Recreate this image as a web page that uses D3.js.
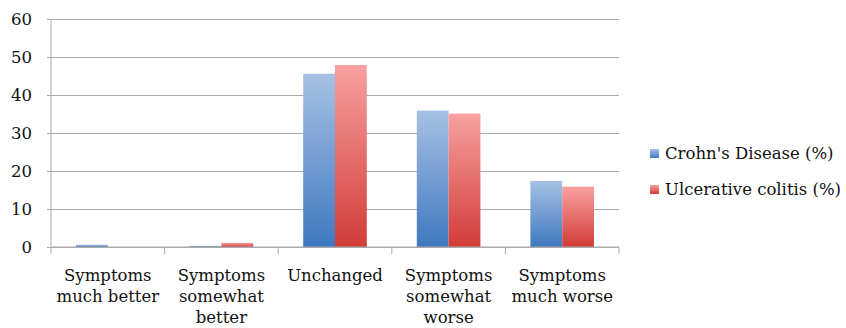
<!DOCTYPE html>
<html lang="en">
<head>
<meta charset="UTF-8">
<title></title>
<style type="text/css">
    body { margin:0; background:#fff }
    text { font-family: "DejaVu Serif", "Liberation Serif", serif; fill:#111 }
</style>
</head>
<body>
<script src="https://d3js.org/d3.v7.min.js"></script>
<script>
    var categories = [
        ['Symptoms', 'much better'],
        ['Symptoms', 'somewhat', 'better'],
        ['Unchanged'],
        ['Symptoms', 'somewhat', 'worse'],
        ['Symptoms', 'much worse']
    ];
    var seriesNames = ["Crohn's Disease (%)", 'Ulcerative colitis (%)'];
    var crohns = [0.6, 0.3, 45.6, 35.9, 17.4];
    var colitis = [0, 1.1, 47.9, 35.1, 15.9];
    var yTicks = [0, 10, 20, 30, 40, 50, 60];

    var width = 846, height = 328,
        plotLeft = 51, plotRight = 619, plotTop = 19, plotBottom = 247,
        fontSize = '16.5px';

    var svg = d3.select('body').append('svg')
        .attr('width', width)
        .attr('height', height);

    var defs = svg.append('defs');
    var grads = [['blueGrad', '#a6c1e4', '#3f78c0'], ['redGrad', '#f7a1a0', '#d23c37']];
    grads.forEach(function(g){
        var lg = defs.append('linearGradient').attr('id', g[0])
            .attr('x1', 0).attr('y1', 0).attr('x2', 0).attr('y2', 1);
        lg.append('stop').attr('offset', '0%').attr('stop-color', g[1]);
        lg.append('stop').attr('offset', '100%').attr('stop-color', g[2]);
    });

    var idx = d3.range(categories.length);
    var xScale = d3.scaleBand().domain(idx).range([plotLeft, plotRight]).paddingInner(0.44).paddingOuter(0.22);
    var xSub = d3.scaleBand().domain([0, 1]).range([0, xScale.bandwidth()]);
    var yScale = d3.scaleLinear().domain([0, 60]).range([plotBottom, plotTop]);

    // gridlines + y axis
    var yAxis = d3.axisLeft(yScale).tickValues(yTicks).tickSize(-(plotRight - plotLeft)).tickPadding(19);
    var gy = svg.append('g').attr('transform', 'translate(' + plotLeft + ',0)').call(yAxis);
    gy.select('.domain').remove();
    gy.selectAll('.tick line').attr('stroke', '#aaa').attr('x1', -4);
    gy.selectAll('.tick text').style('font-size', fontSize).attr('fill', '#111')
        .style('font-family', '"DejaVu Serif", serif');
    svg.append('line').attr('x1', plotLeft).attr('x2', plotLeft).attr('y1', plotTop).attr('y2', plotBottom)
        .attr('stroke', '#aaa');

    // bars
    var series = [crohns, colitis];
    series.forEach(function(vals, s){
        svg.append('g').selectAll('rect')
            .data(vals)
            .enter().append('rect')
            .attr('x', function(d, i){ return xScale(i) + xSub(s); })
            .attr('y', function(d){ return yScale(d); })
            .attr('width', xSub.bandwidth())
            .attr('height', function(d){ return plotBottom - yScale(d); })
            .attr('fill', 'url(#' + grads[s][0] + ')');
    });

    // x axis with boundary ticks
    svg.append('line').attr('x1', plotLeft).attr('x2', plotRight).attr('y1', plotBottom).attr('y2', plotBottom)
        .attr('stroke', '#aaa');
    var step = xScale.step();
    svg.append('g').selectAll('line')
        .data(d3.range(categories.length + 1))
        .enter().append('line')
        .attr('x1', function(d){ return plotLeft + d * step; })
        .attr('x2', function(d){ return plotLeft + d * step; })
        .attr('y1', plotBottom).attr('y2', plotBottom + 7)
        .attr('stroke', '#aaa');

    var labels = svg.append('g').selectAll('text')
        .data(categories)
        .enter().append('text')
        .attr('text-anchor', 'middle')
        .style('font-size', fontSize)
        .attr('transform', function(d, i){
            return 'translate(' + (xScale(i) + xScale.bandwidth() / 2) + ',' + 281 + ')';
        });
    labels.selectAll('tspan')
        .data(function(d){ return d; })
        .enter().append('tspan')
        .attr('x', 0)
        .attr('dy', function(d, j){ return j === 0 ? 0 : 21; })
        .text(function(d){ return d; });

    // legend
    var legend = svg.append('g').selectAll('g')
        .data(seriesNames)
        .enter().append('g')
        .attr('transform', function(d, i){ return 'translate(650,' + (149 + i * 36) + ')'; });
    legend.append('rect').attr('width', 9).attr('height', 9)
        .attr('fill', function(d, i){ return 'url(#' + grads[i][0] + ')'; });
    legend.append('text').attr('x', 15).attr('y', 10)
        .style('font-size', fontSize)
        .text(function(d){ return d; });
</script>
</body>
</html>
